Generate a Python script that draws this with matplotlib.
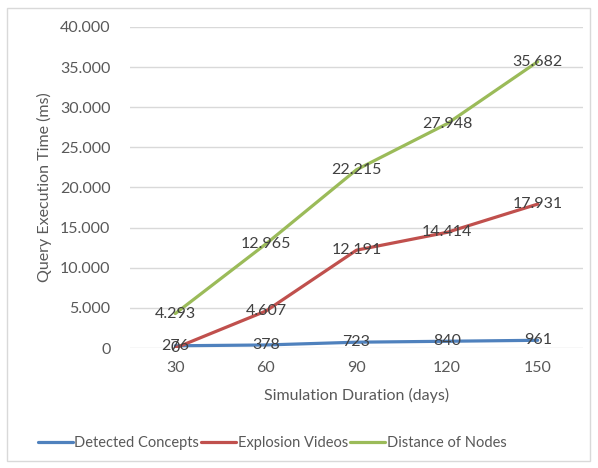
import matplotlib
matplotlib.use("Agg")
import matplotlib.pyplot as plt
from matplotlib.patches import Rectangle
from matplotlib.ticker import FuncFormatter

plt.rcParams['font.family'] = ['Lato', 'DejaVu Sans']

# data
durations = ['30', '60', '90', '120', '150']
detected_concepts = [276, 378, 723, 840, 961]
explosion_videos = [0, 4607, 12191, 14414, 17931]
distance_of_nodes = [4293, 12965, 22215, 27948, 35682]

series = [
    ('Detected Concepts', detected_concepts, '#4F81BD'),
    ('Explosion Videos', explosion_videos, '#C0504D'),
    ('Distance of Nodes', distance_of_nodes, '#9BBB59'),
]

text_color = '#595959'


def dotted(v, pos=None):
    return f"{int(v):,}".replace(',', '.')


W, H = 598, 468
fig = plt.figure(figsize=(W / 100, H / 100), dpi=100)
ax = fig.add_axes([130 / W, 1 - 348 / H, (583 - 130) / W, (348 - 27) / H])

x = list(range(len(durations)))
for name, vals, col in series:
    ax.plot(x, vals, color=col, lw=2.3, label=name, solid_capstyle='round', zorder=3)
for name, vals, col in series:
    for xi, v in zip(x, vals):
        ax.text(xi, v, dotted(v), ha='center', va='center', fontsize=11.5,
                color='#404040', zorder=4)

ax.set_xlim(-0.5, len(durations) - 0.5)
ax.set_ylim(0, 40000)
ax.set_yticks(range(0, 40001, 5000))
ax.yaxis.set_major_formatter(FuncFormatter(dotted))
ax.set_xticks(x)
ax.set_xticklabels(durations)
ax.grid(axis='y', color='#D9D9D9', lw=1)
ax.set_axisbelow(True)
for s in ax.spines.values():
    s.set_visible(False)
ax.tick_params(axis='y', length=0, labelsize=11.5, colors=text_color, pad=14)
ax.tick_params(axis='x', length=0, labelsize=11.5, colors=text_color, pad=9)

ax.set_ylabel('Query Execution Time (ms)', fontsize=11.5, color=text_color, labelpad=6)
ax.set_xlabel('Simulation Duration (days)', fontsize=11.5, color=text_color, labelpad=10)

leg = fig.legend(loc='center', bbox_to_anchor=(272 / W, 1 - 443 / H), ncol=3,
                 frameon=False, fontsize=10.5, handlelength=2.4, handletextpad=0.1,
                 columnspacing=0.15)
for t in leg.get_texts():
    t.set_color(text_color)

fig.patches.append(Rectangle((7 / W, 7 / H), (590 - 7) / W, (460 - 7) / H,
                             transform=fig.transFigure, fill=False,
                             edgecolor='#D9D9D9', lw=1))

fig.savefig('out.png', dpi=100)
